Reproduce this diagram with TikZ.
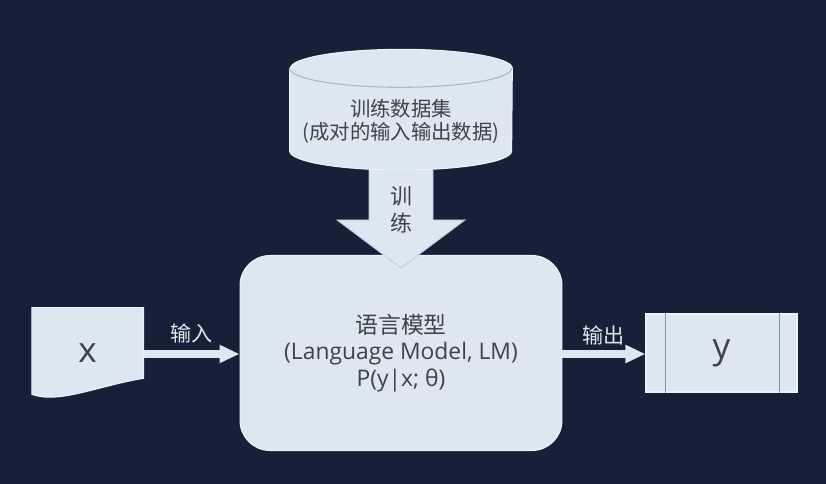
\documentclass[tikz,border=0pt]{standalone}
\usepackage{fontspec}
\setmainfont{Open Sans}
\newfontfamily\cjk{Noto Sans CJK SC}
\usepackage{tikz}
\usetikzlibrary{positioning,arrows.meta,calc,backgrounds}
\definecolor{bgnavy}{RGB}{21,33,56}
\definecolor{paleblue}{RGB}{220,231,242}
\definecolor{edgeblue}{RGB}{236,242,248}
\definecolor{inkgray}{RGB}{64,66,70}
\definecolor{slateline}{RGB}{135,150,170}
\definecolor{labelgray}{RGB}{224,230,238}

\begin{document}
\begin{tikzpicture}[
    x=0.02cm, y=0.02cm,
    lmbox/.style={draw=edgeblue, line width=0.6pt, fill=paleblue, rounded corners=0.6cm,
        minimum width=6.44cm, minimum height=3.9cm, align=center, text=inkgray,
        font=\fontsize{13}{15}\selectfont},
    docbox/.style={minimum width=2.22cm, minimum height=1.8cm, text=inkgray,
        font=\fontsize{20}{24}\selectfont},
    outbox/.style={draw=edgeblue, line width=0.6pt, fill=paleblue, minimum width=3.02cm,
        minimum height=1.56cm, text=inkgray, font=\fontsize{20}{24}\selectfont},
    dbbox/.style={minimum width=4.44cm, minimum height=1.92cm, align=center, text=inkgray,
        font=\cjk\fontsize{11.6}{13}\selectfont},
    shapefill/.style={draw=edgeblue, line width=0.6pt, fill=paleblue},
    bigarrow/.style={draw=slateline!35!paleblue, line width=0.5pt, fill=paleblue},
    flowarrow/.style={-{Triangle[length=0.4cm, width=0.34cm]}, line width=0.16cm, draw=paleblue},
    flowlbl/.style={text=labelgray, font=\cjk\fontsize{12}{14}\selectfont, inner sep=1pt},
    trainlbl/.style={align=center, text=inkgray, font=\cjk\fontsize{12.5}{15.3}\selectfont}
]
\useasboundingbox (0,0) rectangle (826,484);
\node[lmbox] (model) at (401,131) {{\cjk 语言模型}\\(Language Model, LM)\\P(y|x; θ)};
\node[docbox, left=1.92cm of model] (input) {x};
\node[outbox, right=1.66cm of model] (output) {y};
\node[dbbox, above=1.7cm of model] (data) {训练数据集\\(成对的输入输出数据)};
\begin{scope}[on background layer]
\fill[bgnavy] (0,0) rectangle (826,484);
% data set drum
\filldraw[shapefill] ($(data.north west)+(0,5)$) -- ($(data.south west)+(0,19)$)
    arc[start angle=180, end angle=360, x radius=2.22cm, y radius=0.38cm]
    -- ($(data.north east)+(0,5)$)
    arc[start angle=0, end angle=180, x radius=2.22cm, y radius=0.38cm] -- cycle;
\draw[draw=slateline!60!paleblue, line width=0.6pt] ($(data.north west)+(0,5)$)
    arc[start angle=180, end angle=360, x radius=2.22cm, y radius=0.38cm];
% input document
\filldraw[shapefill] (input.north west) -- (input.north east) -- ($(input.south east)+(0,20)$)
    .. controls ($(input.south east)+(-44,13)$) and ($(input.south west)+(27,-6)$)
    .. ($(input.south west)+(0,4)$) -- cycle;
\end{scope}
\draw[draw=slateline, line width=0.6pt] ($(output.north west)+(20,0)$) -- ($(output.south west)+(20,0)$);
\draw[draw=slateline, line width=0.6pt] ($(output.north east)+(-18,0)$) -- ($(output.south east)+(-18,0)$);
% training arrow
\coordinate (tip) at ($(model.north)+(0,-13)$);
\filldraw[bigarrow] ($(data.south)+(-32,0)$) -- ($(tip)+(-32,48)$) -- ($(tip)+(-64,48)$) -- (tip)
    -- ($(tip)+(64,48)$) -- ($(tip)+(32,48)$) -- ($(data.south)+(32,0)$);
\node[trainlbl] (trainword) at ($(data.south)+(0,-40)$) {训\\练};
\draw[flowarrow] (input.east |- 0,130) -- node[flowlbl, above=3pt] (inlbl) {输入} (model.west |- 0,130);
\draw[flowarrow] (model.east |- 0,130) -- node[flowlbl, above=2pt] (outlbl) {输出} (output.west |- 0,130);
\end{tikzpicture}
\end{document}
